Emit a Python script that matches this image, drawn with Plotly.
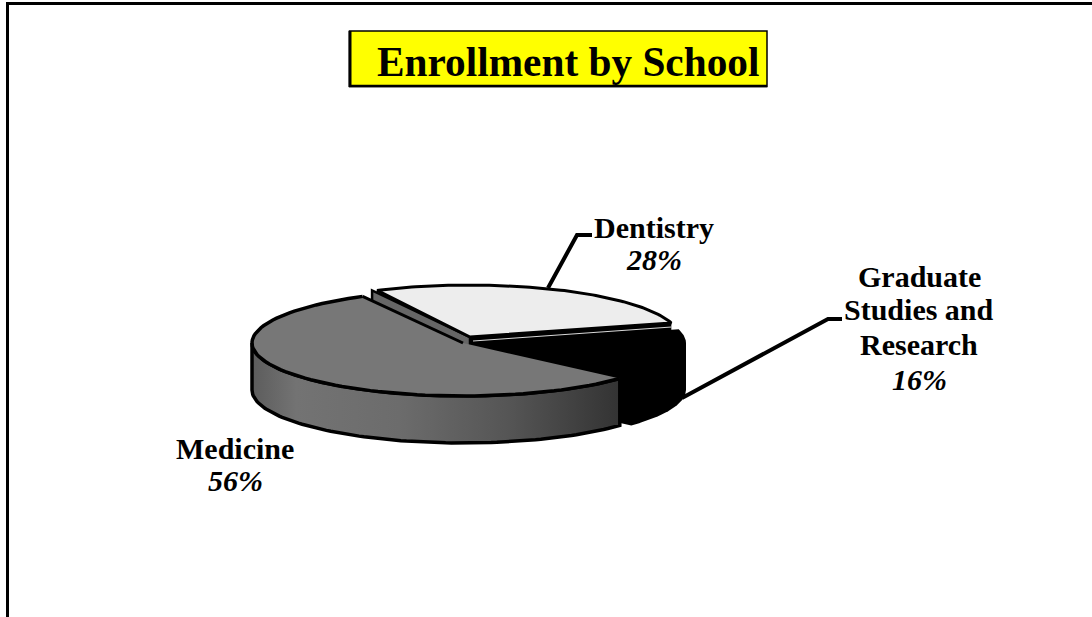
"""
Enrollment by School: tilted 3D-style pie, built on a pixel-sized cartesian plot.
go.Pie can only draw round pies, so slices are filled scatter polygons
whose angles come from the shares below.
"""
import numpy as np
import plotly.graph_objects as go

# ---- data ----
SCHOOLS = ["Medicine", "Dentistry", "Graduate Studies and Research"]
SHARES = [56, 28, 16]
TITLE = "Enrollment by School"

# ---- colours ----
COLOR_MED_TOP = "#777777"
COLOR_DENT_TOP = "#ededed"
COLOR_GRAD = "#000000"
COLOR_CUT = "#666666"
COLOR_TITLE_BG = "#ffff00"
WALL_GRADIENT = [
    [0.0, "#5c5c5c"], [0.12, "#737373"], [0.4, "#6c6c6c"],
    [0.7, "#555555"], [1.0, "#333333"],
]

# ---- geometry (pixels, page coordinates) ----
W, H = 1092, 617
START_ANGLE = 42  # clockwise on screen, from 3 o'clock
MED_BACK_TWEAK = -2  # the tilt squeezes the back edge of Medicine a little
DEPTH = 47
MED = dict(cx=463, cy=343, a=211, b=53)
DENT = dict(cx=470, cy=337, a=209, b=52)
GRAD = dict(cx=473, cy=343, a=213, b=53)
FONT = "Liberation Serif"
LABEL_SIZE = 30


def arc(p, a0, a1, n=90):
    t = np.radians(np.linspace(a0, a1, n))
    return p["cx"] + p["a"] * np.cos(t), p["cy"] + p["b"] * np.sin(t)


def poly(fig, x, y, fill, line_color="#000000", width=0):
    fig.add_trace(go.Scatter(
        x=list(x) + [x[0]], y=list(y) + [y[0]],
        mode="lines", fill="toself", fillcolor=fill,
        line=dict(color=line_color, width=width),
        hoverinfo="skip",
    ))


def line(fig, x, y, color="#000000", width=3.5):
    fig.add_trace(go.Scatter(
        x=x, y=y, mode="lines", line=dict(color=color, width=width),
        hoverinfo="skip",
    ))


# slice angles from the shares
angles = START_ANGLE + np.r_[0, np.cumsum(SHARES)] * 3.6
med0, med1, dent1, grad1 = angles

fig = go.Figure()

# Graduate Studies: one black silhouette, top face plus wall
ux, uy = arc(GRAD, dent1, 360)
lx, ly = arc(GRAD, 360, grad1)
poly(fig,
     np.r_[GRAD["cx"], ux, lx, GRAD["cx"]],
     np.r_[GRAD["cy"], uy, ly + DEPTH, GRAD["cy"] + DEPTH],
     COLOR_GRAD)

# Dentistry cut faces, most of them end up behind Medicine
sx, sy = arc(DENT, med1, med1, 1)
tx, ty = arc(DENT, dent1, dent1, 1)
poly(fig, [DENT["cx"], tx[0], tx[0], DENT["cx"]],
     [DENT["cy"], ty[0], ty[0] + DEPTH, DENT["cy"] + DEPTH], COLOR_GRAD)
poly(fig, [DENT["cx"], sx[0] - 5, sx[0] - 5, DENT["cx"]],
     [DENT["cy"], sy[0], sy[0] + DEPTH, DENT["cy"] + DEPTH], COLOR_CUT,
     width=2.5)

# Medicine wall with the horizontal gradient
ax, ay = arc(MED, med0, 180)
fig.add_trace(go.Scatter(
    x=list(ax) + list(ax[::-1]) + [ax[0]],
    y=list(ay) + list(ay[::-1] + DEPTH) + [ay[0]],
    mode="lines", fill="toself",
    fillgradient=dict(type="horizontal", colorscale=WALL_GRADIENT),
    line=dict(color="#000000", width=3.5),
    hoverinfo="skip",
))

# Medicine top
ax, ay = arc(MED, med0, med1 + MED_BACK_TWEAK)
poly(fig, np.r_[MED["cx"], ax], np.r_[MED["cy"], ay], COLOR_MED_TOP)
line(fig, ax, ay)
line(fig, [ax[-1], MED["cx"]], [ay[-1], MED["cy"]], width=3)

# Dentistry top
ax, ay = arc(DENT, med1, dent1)
poly(fig, np.r_[DENT["cx"], ax], np.r_[DENT["cy"], ay], COLOR_DENT_TOP,
     width=3)
line(fig, [DENT["cx"] + 3, tx[0]], [DENT["cy"] + 4, ty[0] + 4],
     color="#d8d8d8", width=1)

# leader lines
line(fig, [548, 577, 592], [288, 235, 235], width=4)
line(fig, [682, 828, 842], [398, 319, 319], width=4)

# text: each line is placed on its own, the reference has tight line spacing
labels = [
    (SCHOOLS[0], f"{SHARES[0]}%", 235, [448], 480),
    (SCHOOLS[1], f"{SHARES[1]}%", 654, [227], 259),
    (SCHOOLS[2], f"{SHARES[2]}%", 919, [276, 309, 344], 379),
]
GRAD_LINES = ["Graduate", "Studies and", "Research"]
for name, pct, x, ys, y_pct in labels:
    rows = GRAD_LINES if len(ys) > 1 else [name]
    for row, y in zip(rows, ys):
        fig.add_annotation(x=x, y=y, text=f"<b>{row}</b>", showarrow=False,
                           font=dict(family=FONT, size=LABEL_SIZE, color="#000000"))
    fig.add_annotation(x=x, y=y_pct, text=f"<b><i>{pct}</i></b>", showarrow=False,
                       font=dict(family=FONT, size=LABEL_SIZE, color="#000000"))

fig.add_annotation(x=567.5, y=62, text=f"<b>{TITLE}</b>", showarrow=False,
                   font=dict(family=FONT, size=41.3, color="#000000"))

fig.update_layout(
    width=W,
    height=H,
    margin=dict(l=0, r=0, t=0, b=0),
    paper_bgcolor="white",
    plot_bgcolor="white",
    showlegend=False,
    xaxis=dict(range=[0, W], visible=False, fixedrange=True),
    yaxis=dict(range=[H, 0], visible=False, fixedrange=True),
    shapes=[
        # page frame, top and left only
        dict(type="line", x0=7.5, y0=H, x1=7.5, y1=3.5, line=dict(color="black", width=3)),
        dict(type="line", x0=6, y0=3.5, x1=W, y1=3.5, line=dict(color="black", width=3)),
        # title box, heavier on the left and at the bottom
        dict(type="rect", x0=349.5, y0=31, x1=767, y1=86.5, fillcolor=COLOR_TITLE_BG,
             line=dict(color="black", width=1.5), layer="below"),
        dict(type="line", x0=350, y0=31, x1=350, y1=87, line=dict(color="black", width=3)),
        dict(type="line", x0=349, y0=86, x1=767, y1=86, line=dict(color="black", width=2.5)),
    ],
)

fig.write_html("out.html", post_script="document.body.style.margin='0';",
               config=dict(displayModeBar=False))
